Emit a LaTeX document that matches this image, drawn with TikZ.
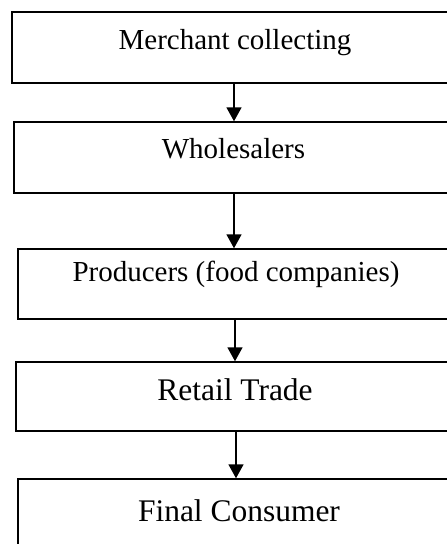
\documentclass[tikz,border=0pt]{standalone}
\usepackage{fontspec}
\setmainfont{Liberation Serif}
\usetikzlibrary{arrows.meta}
\begin{document}
\begin{tikzpicture}[x=0.75pt,y=-0.75pt,
  box/.style={draw=black,line width=1.1pt,inner sep=0pt,anchor=center},
  small/.style={font=\fontsize{21.75pt}{26pt}\selectfont},
  large/.style={font=\fontsize{23.6pt}{28pt}\selectfont},
  arr/.style={line width=1.2pt,-{Triangle[length=10.5pt,width=11.25pt]}}]
\clip (0,0) rectangle (447,544);
\fill[white] (0,0) rectangle (447,544);
\node[box,small,minimum width=334.5pt,minimum height=53.25pt,text height=8.85pt,text depth=6.15pt] (b1) at (235,47.5) {Merchant collecting};
\node[box,small,minimum width=329.25pt,minimum height=53.25pt,text height=7.875pt,text depth=7.125pt] (b2) at (233.5,157.5) {Wholesalers};
\node[box,small,minimum width=327pt,minimum height=52.5pt,text height=5.775pt,text depth=9.225pt] (b3) at (236,284) {Producers (food companies)};
\node[box,large,minimum width=328.5pt,minimum height=51.75pt,text height=10.125pt,text depth=4.875pt] (b4) at (235,396.5) {Retail Trade};
\node[box,large,minimum width=331.5pt,minimum height=53.25pt,text height=12.9pt,text depth=2.1pt] (b5) at (239,514.5) {Final Consumer};
\coordinate (x1) at (234,0);
\coordinate (x2) at (234,0);
\coordinate (x3) at (235,0);
\coordinate (x4) at (236,0);
\draw[arr] (b1.south -| x1) -- (b2.north -| x1);
\draw[arr] (b2.south -| x2) -- (b3.north -| x2);
\draw[arr] (b3.south -| x3) -- (b4.north -| x3);
\draw[arr] (b4.south -| x4) -- (b5.north -| x4);
\end{tikzpicture}
\end{document}
